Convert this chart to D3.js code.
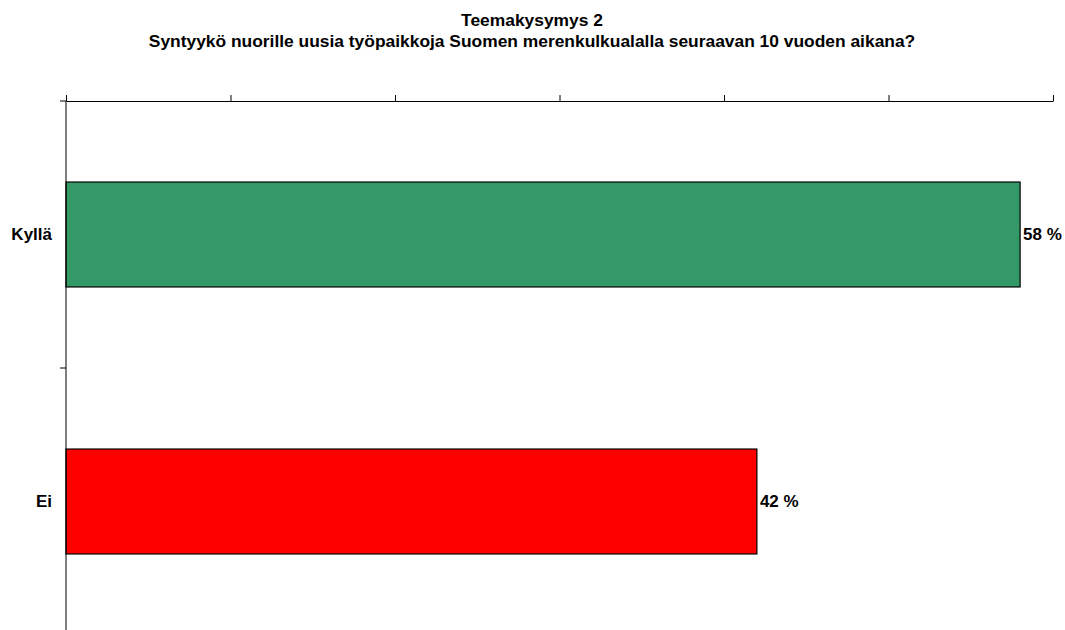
<!DOCTYPE html>
<html>
<head>
<meta charset="utf-8">
<script src="https://d3js.org/d3.v7.min.js"></script>
<style>
  body { margin: 0; background: #fff; }
  text { font-family: Arial, "Liberation Sans", sans-serif; font-weight: bold; fill: #000; }
</style>
</head>
<body>
<div id="chart"></div>
<script>
var titleLines = ["Teemakysymys 2", "Syntyykö nuorille uusia työpaikkoja Suomen merenkulkualalla seuraavan 10 vuoden aikana?"];
var categories = ["Kyllä", "Ei"];
var values = [58, 42];
var barColors = ["#339966", "#FF0000"];
var xTicks = [0, 10, 20, 30, 40, 50, 60];

var svgWidth = 1065;
var svgHeight = 630;

var margin = { top: 101, left: 66, right: 12 };
var width = svgWidth - margin.left - margin.right;
var bandHeight = 534;

var svg = d3.select("#chart")
  .append("svg")
  .attr("width", svgWidth)
  .attr("height", svgHeight);

// title
svg.selectAll(".title")
  .data(titleLines)
  .enter()
  .append("text")
  .attr("class", "title")
  .attr("x", 532)
  .attr("y", (d, i) => 26 + i * 21)
  .attr("text-anchor", "middle")
  .style("font-size", "17.4px")
  .text(d => d);

var chartGroup = svg.append("g")
  .attr("transform", `translate(${margin.left}, ${margin.top})`);

var xScale = d3.scaleLinear()
  .domain([0, 60])
  .range([0, width]);

var yScale = d3.scaleBand()
  .domain(categories)
  .range([0, bandHeight])
  .paddingInner(0.607)
  .paddingOuter(0.3035);

// bars
chartGroup.selectAll("rect")
  .data(values)
  .enter()
  .append("rect")
  .attr("x", 0)
  .attr("y", (d, i) => yScale(categories[i]))
  .attr("width", d => xScale(d))
  .attr("height", yScale.bandwidth())
  .attr("fill", (d, i) => barColors[i])
  .attr("stroke", "#000")
  .attr("stroke-width", 1.2);

// top axis, no labels
var xAxis = d3.axisTop(xScale)
  .tickValues(xTicks)
  .tickSize(6)
  .tickSizeOuter(0)
  .tickFormat("");
chartGroup.append("g")
  .attr("class", "x-axis")
  .call(xAxis);

// left axis with ticks at category boundaries
var step = yScale.step();
var boundaries = d3.range(categories.length + 1).map(i => i * step);
chartGroup.append("line")
  .attr("x1", 0).attr("x2", 0)
  .attr("y1", 0).attr("y2", bandHeight)
  .attr("stroke", "#000");
chartGroup.selectAll(".ytick")
  .data(boundaries)
  .enter()
  .append("line")
  .attr("class", "ytick")
  .attr("x1", -6).attr("x2", 0)
  .attr("y1", d => d).attr("y2", d => d)
  .attr("stroke", "#000");

// category labels
chartGroup.selectAll(".cat")
  .data(categories)
  .enter()
  .append("text")
  .attr("class", "cat")
  .attr("x", -14)
  .attr("y", d => yScale(d) + yScale.bandwidth() / 2)
  .attr("dy", "0.35em")
  .attr("text-anchor", "end")
  .style("font-size", "17px")
  .text(d => d);

// value labels
chartGroup.selectAll(".val")
  .data(values)
  .enter()
  .append("text")
  .attr("class", "val")
  .attr("x", d => xScale(d) + 3)
  .attr("y", (d, i) => yScale(categories[i]) + yScale.bandwidth() / 2)
  .attr("dy", "0.35em")
  .style("font-size", "17px")
  .text(d => d + " %");

chartGroup.selectAll(".x-axis path, .x-axis line").attr("stroke", "#000");
</script>
</body>
</html>
